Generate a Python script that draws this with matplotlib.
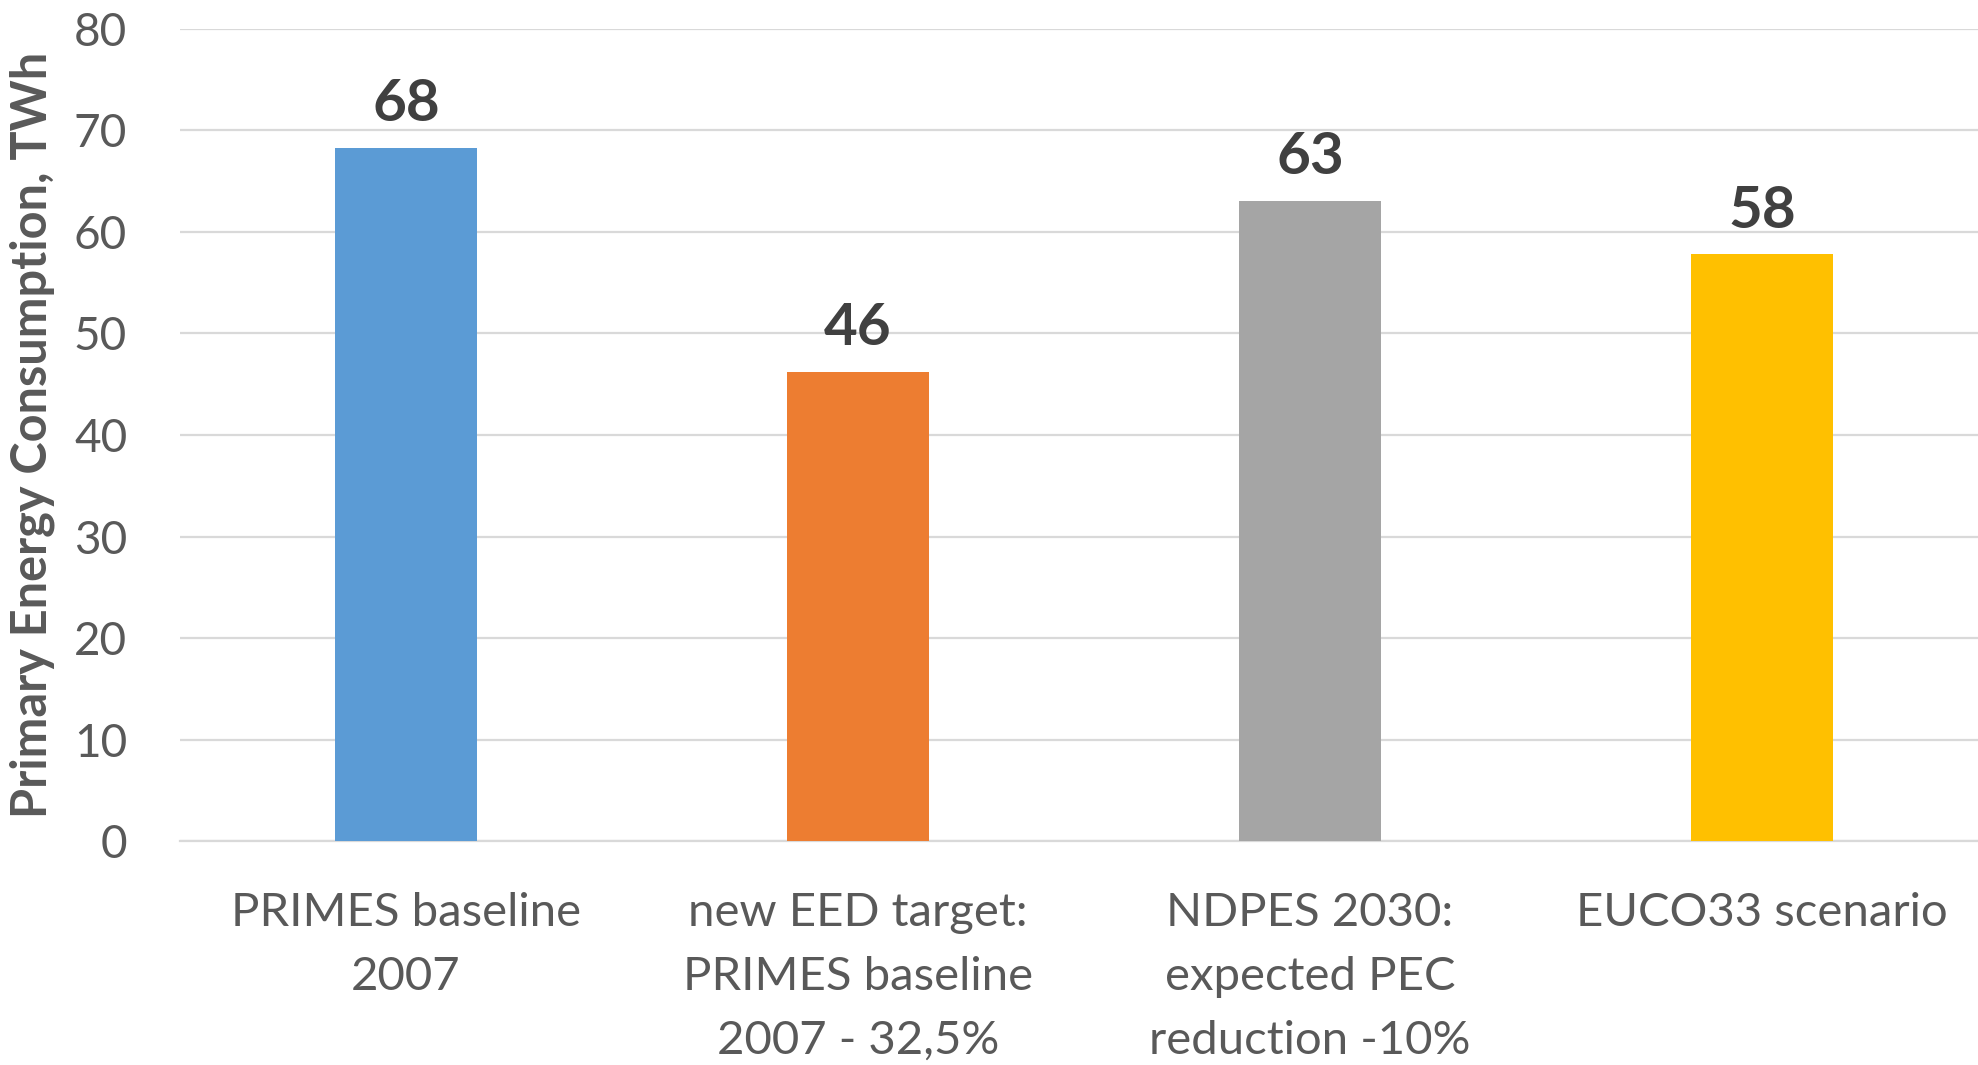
import matplotlib.pyplot as plt

# scenario data, TWh
categories = [
    "PRIMES baseline\n2007",
    "new EED target:\nPRIMES baseline\n2007 - 32,5%",
    "NDPES 2030:\nexpected PEC\nreduction -10%",
    "EUCO33 scenario",
]
values = [68.3, 46.2, 63.1, 57.8]
value_labels = ["68", "46", "63", "58"]
colors = ["#5B9BD5", "#ED7D31", "#A5A5A5", "#FFC000"]

plt.rcParams["font.family"] = ["Lato", "DejaVu Sans"]

fig = plt.figure(figsize=(19.78, 10.65), dpi=100)
ax = fig.add_axes([0.091, 0.2103, 0.914, 0.7625])

x = range(len(categories))
ax.bar(x, values, width=0.314, color=colors, zorder=3)

for xi, v, lab in zip(x, values, value_labels):
    ax.annotate(lab, (xi, v), xytext=(0, 12), textcoords="offset points",
                ha="center", va="bottom", fontsize=42, fontweight="bold",
                color="#404040")

ax.set_xlim(-0.5, len(categories) - 0.5)
ax.set_ylim(0, 80)
ax.set_yticks(range(0, 81, 10))
ax.yaxis.grid(True, color="#D9D9D9", linewidth=1.6, zorder=0)
for s in ["top", "right", "left"]:
    ax.spines[s].set_visible(False)
ax.spines["bottom"].set_color("#D9D9D9")
ax.spines["bottom"].set_linewidth(1.6)

ax.set_xticks(list(x))
ax.set_xticklabels(categories, linespacing=1.64)
ax.tick_params(axis="both", length=0, labelcolor="#595959")
ax.tick_params(axis="y", labelsize=33, pad=38)
ax.tick_params(axis="x", labelsize=34, pad=37)

ax.set_ylabel("Primary Energy Consumption, TWh", fontsize=35,
              fontweight="bold", color="#595959")
ax.yaxis.set_label_coords(-0.069, 0.5)

fig.savefig("out.png", dpi=100)
